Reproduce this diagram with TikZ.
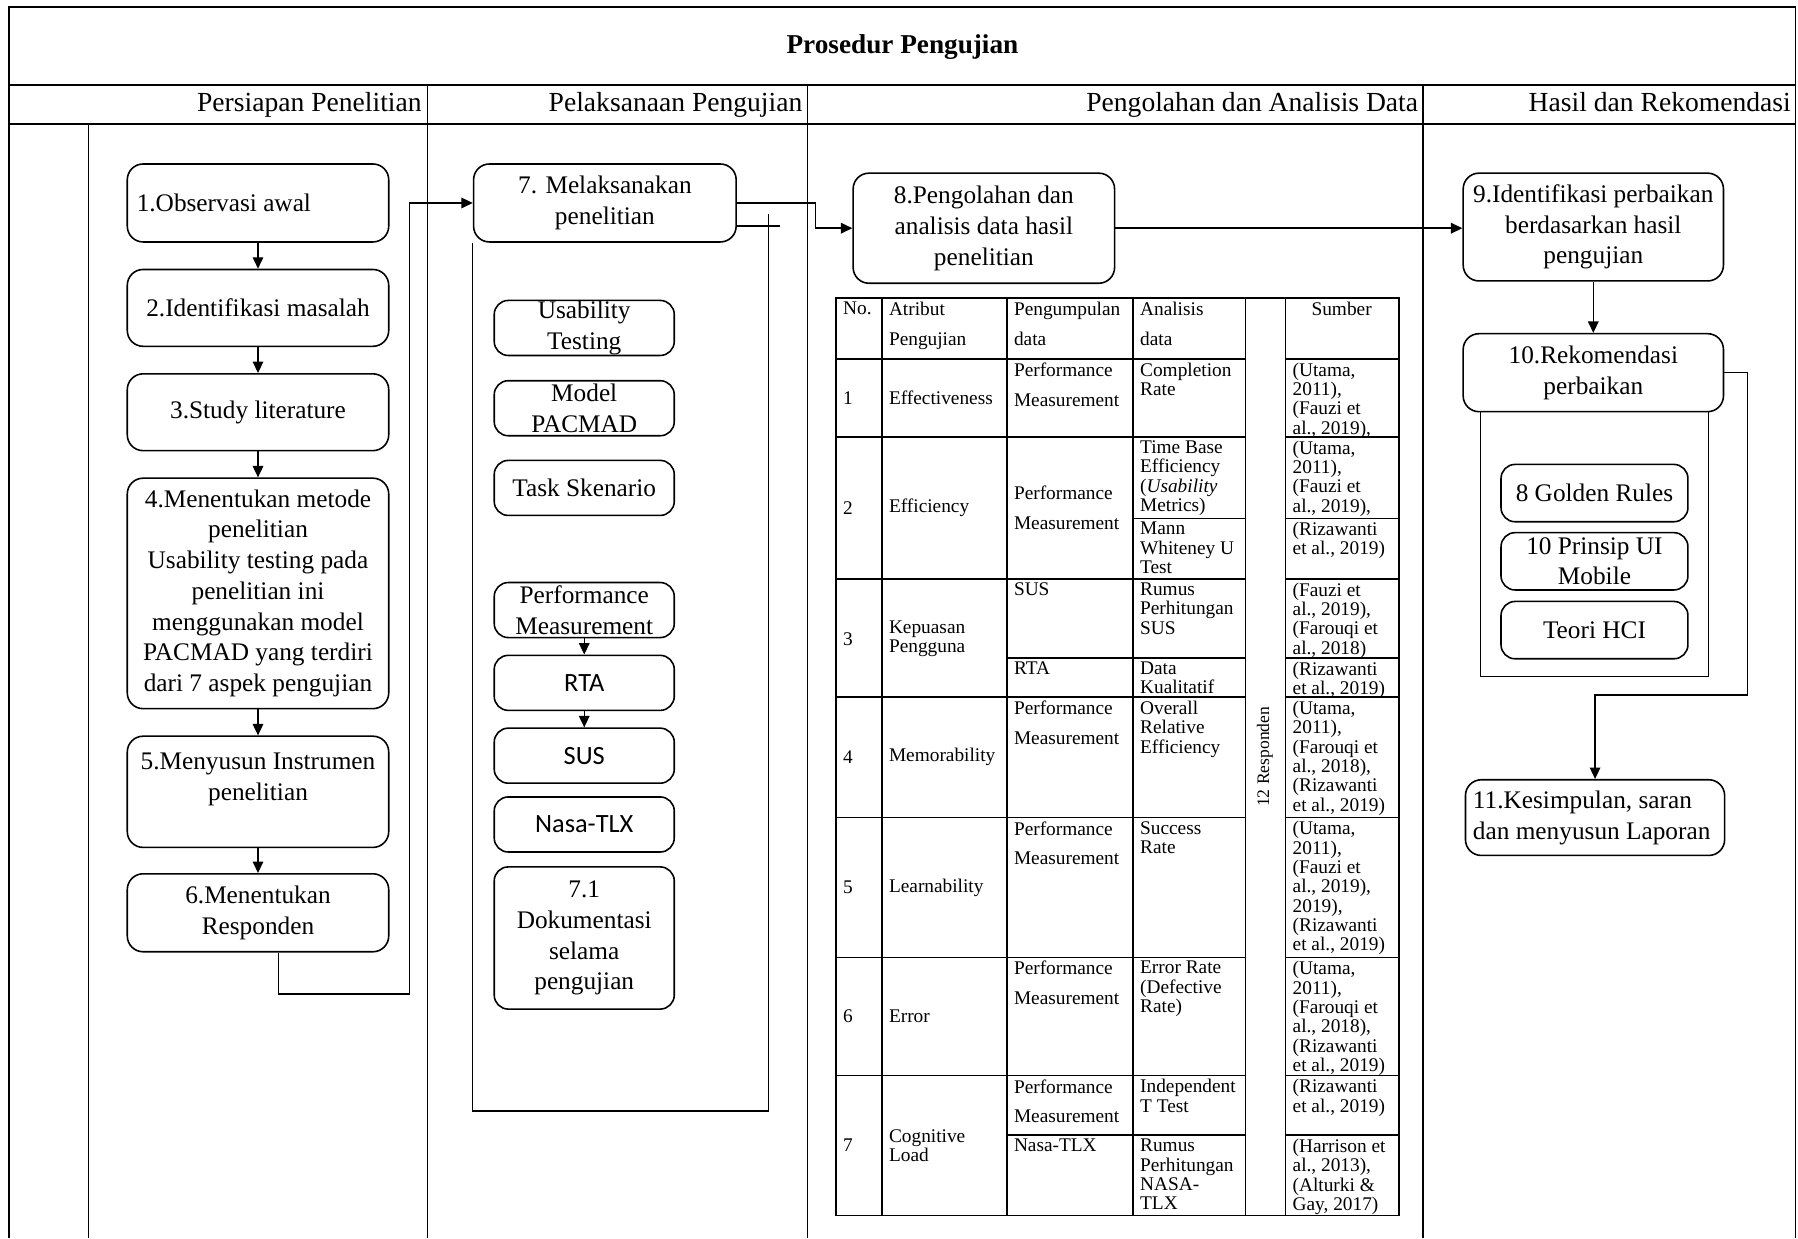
\documentclass[tikz,border=0pt]{standalone}
\usepackage{fontspec}
\setmainfont{Liberation Serif}
\newfontfamily\calibfont{Carlito}
\usetikzlibrary{arrows.meta,positioning}

\newcommand{\px}{0.022934cm}
\newcommand{\bxfont}{\fontsize{14.4}{17.5}\selectfont}
\newcommand{\lnfont}{\fontsize{15.7}{18}\selectfont}
\newcommand{\sffnt}{\calibfont\fontsize{15}{18}\selectfont}
\newcommand{\tbfont}{\fontsize{11}{11}\selectfont}
\newcommand{\tbwide}{\fontsize{11}{17}\selectfont}

\tikzset{
  lane/.style={line width=0.8pt},
  lanehead/.style={anchor=base east, inner sep=0pt, font=\lnfont},
  wh/.style 2 args={minimum width=#1*\px, minimum height=#2*\px},
  box/.style={draw, rounded corners=9pt, line width=0.9pt, inner sep=0pt, align=center, font=\bxfont},
  sub/.style={box, rounded corners=8pt, wh={157}{48}},
  rbox/.style={box, rounded corners=8pt, wh={163}{50}},
  arr/.style={-{Triangle[length=6.5pt,width=6pt]}, line width=0.8pt},
  cell/.style={anchor=north west, inner sep=0pt, align=left, font=\tbfont},
  wide/.style={cell, font=\tbwide},
  midcell/.style={cell, anchor=west}
}

\begin{document}
\begin{tikzpicture}[x=0.022934cm, y=-0.022934cm]
\useasboundingbox (0,0) rectangle (1568,1080);

% frame and lanes
\draw[lane] (8,1080) -- (8,6) -- (1566,6) -- (1566,1080);
\draw[lane] (8,74) -- (1566,74);
\draw[lane] (8,108) -- (1566,108);
\foreach \x in {373,704,1241} \draw[lane] (\x,74) -- (\x,1080);
\draw[lane] (77,108) -- (77,1080);

\node[font=\bfseries\fontsize{15.5}{18}\selectfont] (ttl) at (787,41) {Prosedur Pengujian};
\node[lanehead] (h1) at (368,97) {Persiapan Penelitian};
\node[lanehead] (h2) at (700,97) {Pelaksanaan Pengujian};
\node[lanehead] (h3) at (1237,97) {Pengolahan dan Analisis Data};
\node[lanehead] (h4) at (1562,97) {Hasil dan Rekomendasi};

% persiapan
\node[box, wh={228}{68}] (b1) at (225,177) {\parbox{138pt}{1.Observasi awal}};
\node[box, wh={228}{67}] (b2) at (225,268.5) {2.Identifikasi masalah};
\node[box, wh={228}{67}] (b3) at (225,359.5) {3.Study literature};
\node[box, wh={228}{201}] (b4) at (225,517.5) {4.Menentukan metode\\penelitian\\Usability testing pada\\penelitian ini\\menggunakan model\\PACMAD yang terdiri\\dari 7 aspek pengujian};
\node[box, wh={228}{97}] (b5) at (225,690.5) {5.Menyusun Instrumen\\penelitian\\~};
\node[box, wh={228}{68}] (b6) at (225,796) {6.Menentukan\\Responden};
\foreach \a/\b in {b1/b2,b2/b3,b3/b4,b4/b5,b5/b6} \draw[arr] (\a) -- (\b);

% pelaksanaan
\node[box, wh={229}{68}] (b7) at (527.5,177) {7. Melaksanakan\\penelitian};
\coordinate (k6) at (243,867);
\coordinate (k7) at (357,867);
\draw[arr] (b6.south -| k6) -- (k6) -- (k7) |- (b7.west);
\draw[lane] (b7.south west) |- (670,969) -- (670,187);
\draw[lane] (b7.east |- 0,197) -- (680,197);

\node[sub] (ut) at (509.5,286) {Usability\\Testing};
\node[sub] (pac) at (509.5,356) {Model\\PACMAD};
\node[sub] (task) at (509.5,425.5) {Task Skenario};
\node[sub] (perf) at (509.5,532) {Performance\\Measurement};
\node[sub, font=\sffnt] (rta) at (509.5,595.5) {RTA};
\node[sub, font=\sffnt] (sus) at (509.5,659) {SUS};
\node[sub, font=\sffnt] (nasa) at (509.5,719) {Nasa-TLX};
\node[sub, wh={157}{124}] (dok) at (509.5,818) {7.1\\Dokumentasi\\selama\\pengujian};
\draw[arr] (perf) -- (rta);
\draw[arr] (rta) -- (sus);

% pengolahan
\node[box, wh={228}{96}] (b8) at (858,199) {8.Pengolahan dan\\analisis data hasil\\penelitian};
\coordinate (k78) at (711,177);
\draw[arr] (b7.east) -- (k78) |- (b8.west);

\begin{scope}[line width=0.9pt]
\draw (729,260) rectangle (1220,1060);
\foreach \x in {769,878,988,1086,1121} \draw (\x,260) -- (\x,1060);
\foreach \y in {313,381,505,608,713,835,938} {
  \draw (729,\y) -- (1086,\y);
  \draw (1121,\y) -- (1220,\y);
}
\draw (988,452) -- (1086,452);  \draw (1121,452) -- (1220,452);
\draw (878,574) -- (1086,574);  \draw (1121,574) -- (1220,574);
\draw (878,990) -- (1086,990);  \draw (1121,990) -- (1220,990);
\end{scope}

\node[cell] (n0) at (735,263) {No.};
\node[wide] (a0) at (775,263) {Atribut\\Pengujian};
\node[wide] (p0) at (884,263) {Pengumpulan\\data};
\node[wide] (d0) at (994,263) {Analisis\\data};
\node[cell, anchor=north] (s0) at (1170,263) {Sumber};
\node[inner sep=0pt, rotate=90, font=\fontsize{10}{10}\selectfont] (resp) at (1103,660) {12 Responden};

\node[midcell] (n1) at (735,347) {1};
\node[midcell] (a1) at (775,347) {Effectiveness};
\node[wide] (p1) at (884,316) {Performance\\Measurement};
\node[cell] (d1) at (994,316) {Completion\\Rate};
\node[cell] (s1) at (1127,316) {(Utama,\\2011),\\(Fauzi et\\al., 2019),};

\node[midcell] (n2) at (735,443) {2};
\node[midcell] (a2) at (775,443) {Efficiency};
\node[wide, anchor=west] (p2) at (884,443) {Performance\\Measurement};
\node[cell] (d2) at (994,384) {Time Base\\Efficiency\\(\textit{Usability}\\Metrics)};
\node[cell] (d2b) at (994,455) {Mann\\Whiteney U\\Test};
\node[cell] (s2) at (1127,384) {(Utama,\\2011),\\(Fauzi et\\al., 2019),};
\node[cell] (s2b) at (1127,455) {(Rizawanti\\et al., 2019)};

\node[midcell] (n3) at (735,557) {3};
\node[midcell] (a3) at (775,557) {Kepuasan\\Pengguna};
\node[cell] (p3) at (884,508) {SUS};
\node[cell] (p3b) at (884,577) {RTA};
\node[cell] (d3) at (994,508) {Rumus\\Perhitungan\\SUS};
\node[cell] (d3b) at (994,577) {Data\\Kualitatif};
\node[cell] (s3) at (1127,508) {(Fauzi et\\al., 2019),\\(Farouqi et\\al., 2018)};
\node[cell] (s3b) at (1127,577) {(Rizawanti\\et al., 2019)};

\node[midcell] (n4) at (735,660) {4};
\node[midcell] (a4) at (775,660) {Memorability};
\node[wide] (p4) at (884,611) {Performance\\Measurement};
\node[cell] (d4) at (994,611) {Overall\\Relative\\Efficiency};
\node[cell] (s4) at (1127,611) {(Utama,\\2011),\\(Farouqi et\\al., 2018),\\(Rizawanti\\et al., 2019)};

\node[midcell] (n5) at (735,774) {5};
\node[midcell] (a5) at (775,774) {Learnability};
\node[wide] (p5) at (884,716) {Performance\\Measurement};
\node[cell] (d5) at (994,716) {Success\\Rate};
\node[cell] (s5) at (1127,716) {(Utama,\\2011),\\(Fauzi et\\al., 2019),\\2019),\\(Rizawanti\\et al., 2019)};

\node[midcell] (n6) at (735,886) {6};
\node[midcell] (a6) at (775,886) {Error};
\node[wide] (p6) at (884,838) {Performance\\Measurement};
\node[cell] (d6) at (994,838) {Error Rate\\(Defective\\Rate)};
\node[cell] (s6) at (1127,838) {(Utama,\\2011),\\(Farouqi et\\al., 2018),\\(Rizawanti\\et al., 2019)};

\node[midcell] (n7) at (735,999) {7};
\node[midcell] (a7) at (775,999) {Cognitive\\Load};
\node[wide] (p7) at (884,941) {Performance\\Measurement};
\node[cell] (p7b) at (884,993) {Nasa-TLX};
\node[cell] (d7) at (994,941) {Independent\\T Test};
\node[cell] (d7b) at (994,993) {Rumus\\Perhitungan\\NASA-\\TLX};
\node[cell] (s7) at (1127,941) {(Rizawanti\\et al., 2019)};
\node[cell] (s7b) at (1127,993) {(Harrison et\\al., 2013),\\(Alturki \&\\Gay, 2017)};

% hasil
\node[box, wh={227}{94}] (b9) at (1389.5,198) {9.Identifikasi perbaikan\\berdasarkan hasil\\pengujian};
\draw[arr] (b8.east) -- (b8.east -| b9.west);
\node[box, wh={227}{68}] (b10) at (1389.5,325) {10.Rekomendasi\\perbaikan};
\draw[arr] (b9) -- (b10);
\draw[lane] (1291,359) |- (1490,590) -- (1490,359);
\node[rbox] (golden) at (1390.5,430) {8 Golden Rules};
\node[rbox] (prinsip) at (1390.5,489.5) {10 Prinsip UI\\Mobile};
\node[rbox] (hci) at (1390.5,549.5) {Teori HCI};
\node[box, wh={226}{66}] (b11) at (1391,713) {\parbox{139pt}{11.Kesimpulan, saran\\dan menyusun Laporan}};
\coordinate (k10) at (1524,606);
\draw[arr] (b10.east) -| (k10) -| (b11.north);
\end{tikzpicture}
\end{document}
